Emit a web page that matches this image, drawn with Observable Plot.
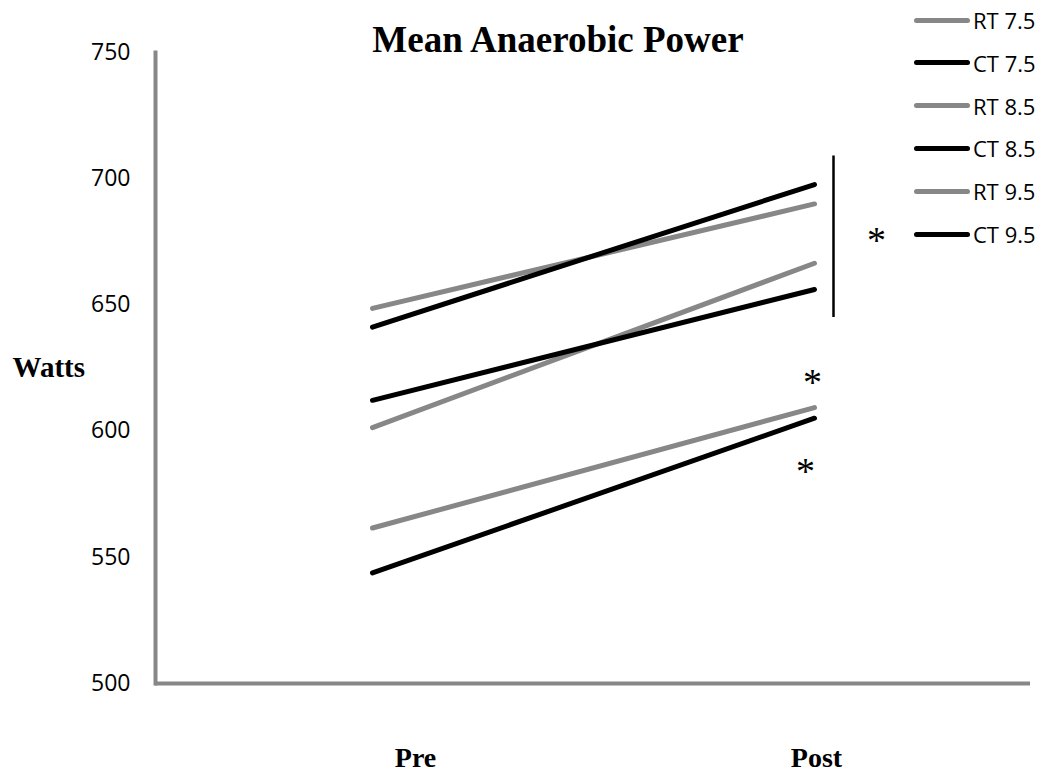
<!DOCTYPE html>
<html><head><meta charset="utf-8">
<script src="https://cdn.jsdelivr.net/npm/d3@7"></script>
<script src="https://cdn.jsdelivr.net/npm/@observablehq/plot@0.6"></script>
<style>
body{margin:0;background:#fff;}
#wrap{position:relative;width:1049px;height:776px;overflow:hidden;}
.item{position:absolute;left:914px;height:26px;display:flex;align-items:center;font-family:"Open Sans";font-size:22px;color:#000;white-space:nowrap;}
.sw{width:56px;height:5px;border-radius:3px;margin-right:3px;}
</style></head><body><div id="wrap"></div>
<script>
const series = ["RT 7.5","CT 7.5","RT 8.5","CT 8.5","RT 9.5","CT 9.5"];
const groupType = ["RT","CT","RT","CT","RT","CT"];
const times = ["Pre","Post"];
const preWatts = [561.6, 543.8, 601.4, 612.2, 648.6, 641.2];
const postWatts = [609.3, 605.1, 666.5, 656.1, 690.0, 697.7];
const yTicks = [500, 550, 600, 650, 700, 750];
const titleText = "Mean Anaerobic Power";
const yLabel = "Watts";
const bracketSpan = [645, 709];
const starGroupY = [676];
const starRT75Y = [620];
const starCT75Y = [585];

const GRAY = "#878787";
const rows = series.flatMap((s, i) => [
  {series: s, type: groupType[i], time: times[0], watts: preWatts[i]},
  {series: s, type: groupType[i], time: times[1], watts: postWatts[i]}
]);

const serif = "'Liberation Serif', 'Times New Roman', serif";
const chart = Plot.plot({
  width: 1049, height: 776,
  marginTop: 52, marginBottom: 93, marginLeft: 155, marginRight: 19,
  style: {background: "white", overflow: "visible", color: "#000"},
  x: {type: "point", domain: times, padding: 0.488},
  y: {domain: [500, 750]},
  color: {domain: ["RT", "CT"], range: [GRAY, "#000"]},
  marks: [
    Plot.axisY({ticks: yTicks, tickSize: 0, tickPadding: 25, fontSize: 23, fontFamily: "Open Sans", label: null}),
    Plot.axisX({ticks: [times[0]], dx: 43, tickSize: 0, tickPadding: 64, fontSize: 28, fontWeight: "bold", fontFamily: serif, label: null}),
    Plot.axisX({ticks: [times[1]], dx: 2, tickSize: 0, tickPadding: 64, fontSize: 28, fontWeight: "bold", fontFamily: serif, label: null}),
    Plot.frame({anchor: "left", stroke: GRAY, strokeWidth: 4}),
    Plot.ruleY([500], {stroke: GRAY, strokeWidth: 4}),
    Plot.line(rows, {x: "time", y: "watts", z: "series", stroke: "type", strokeWidth: 5, strokeLinecap: "round"}),
    Plot.ruleX([times[1]], {y1: bracketSpan[0], y2: bracketSpan[1], dx: 19, stroke: "#000", strokeWidth: 2.5}),
    Plot.text(starGroupY, {x: () => times[1], y: d => d, text: () => "*", dx: 62, dy: 2, fontSize: 38, fontFamily: serif}),
    Plot.text(starRT75Y, {x: () => times[1], y: d => d, text: () => "*", dx: -2, dy: 2, fontSize: 38, fontFamily: serif}),
    Plot.text(starCT75Y, {x: () => times[1], y: d => d, text: () => "*", dx: -9, dy: 3, fontSize: 38, fontFamily: serif}),
    Plot.text([yLabel], {frameAnchor: "left", dx: -143, textAnchor: "start", fontSize: 29, fontWeight: "bold", fontFamily: serif}),
    Plot.text([titleText], {frameAnchor: "top", dx: -35, dy: -26.5, fontSize: 37, fontWeight: "bold", fontFamily: serif})
  ]
});
const wrap = document.getElementById("wrap");
wrap.appendChild(chart);
series.forEach((s, i) => {
  const item = document.createElement("div");
  item.className = "item";
  item.style.top = (20 + i * 42.8 - 13) + "px";
  const sw = document.createElement("div");
  sw.className = "sw";
  sw.style.background = groupType[i] === "RT" ? GRAY : "#000";
  const t = document.createElement("span");
  t.textContent = s;
  item.appendChild(sw); item.appendChild(t);
  wrap.appendChild(item);
});
</script></body></html>
